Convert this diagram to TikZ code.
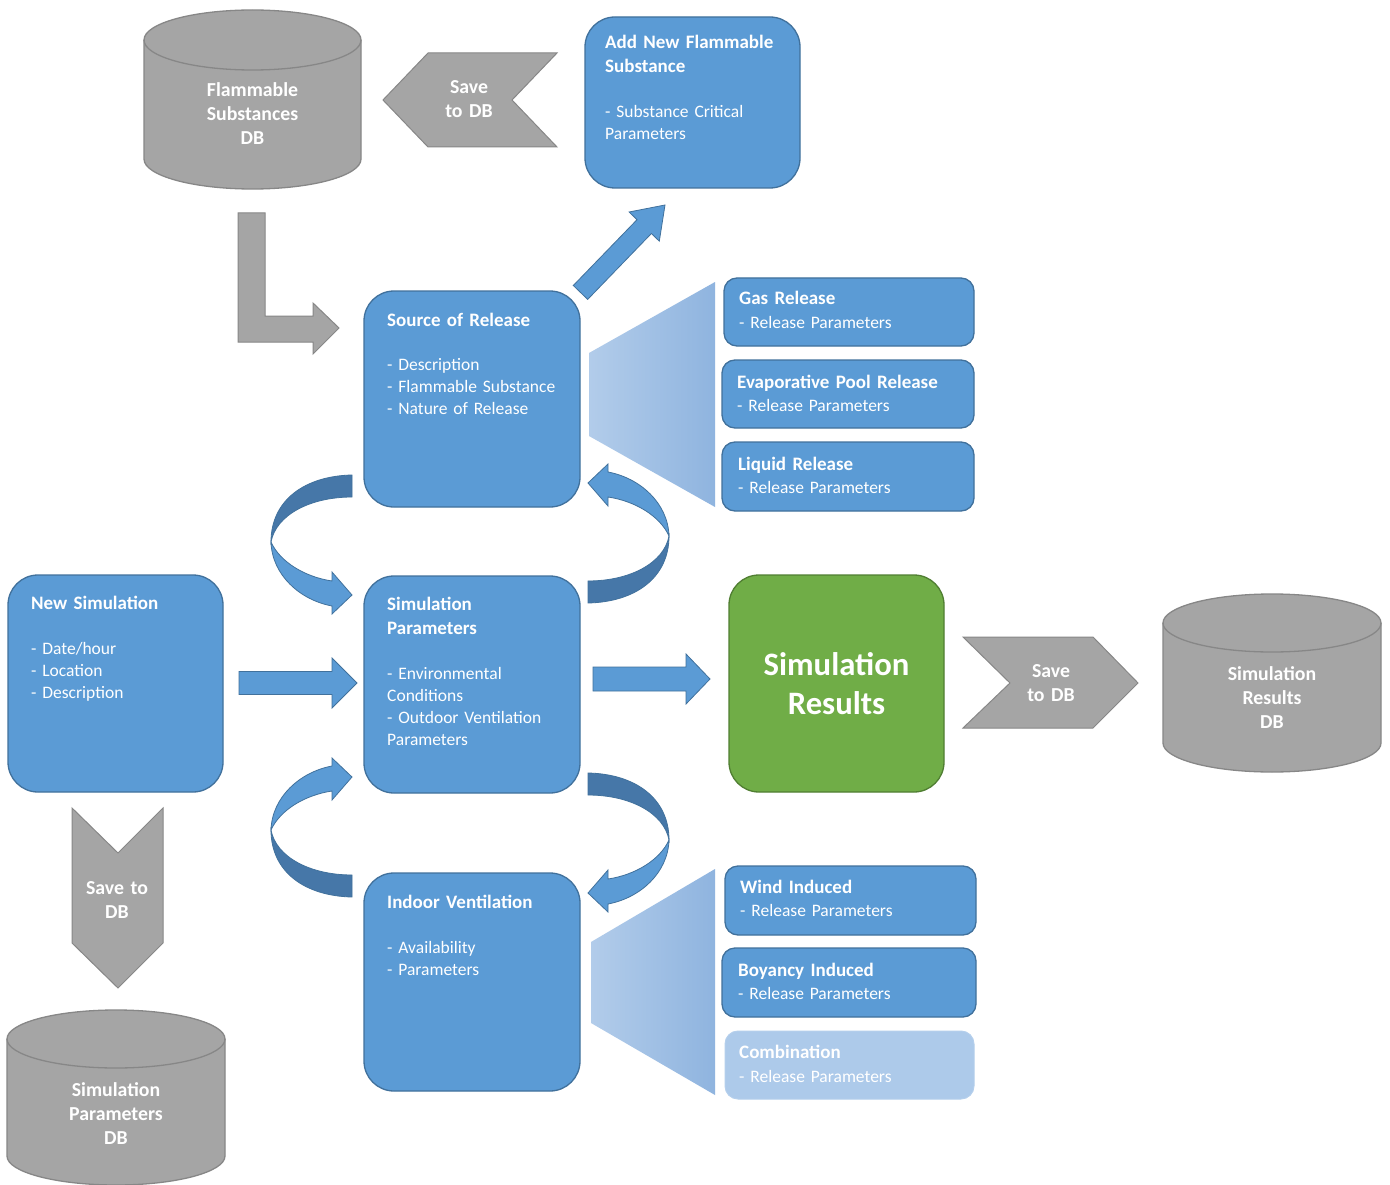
\documentclass[tikz,border=0pt]{standalone}
\usepackage{fontspec}
\setmainfont{Carlito}
\definecolor{boxblue}{HTML}{5B9BD5}
\definecolor{boxedge}{HTML}{41719C}
\definecolor{darkband}{HTML}{4677A8}
\definecolor{gfill}{HTML}{A5A5A5}
\definecolor{gedge}{HTML}{878787}
\definecolor{grfill}{HTML}{70AD47}
\definecolor{gredge}{HTML}{507E32}
\definecolor{lightbox}{HTML}{ADCAEA}
\definecolor{trapL}{HTML}{B2CCEA}
\definecolor{trapR}{HTML}{8FB4DF}
\newcommand{\dbcyl}[5]{%
  \filldraw[dbstyle] (#1-#4,#2) -- (#1-#4,#3) arc[start angle=180,end angle=360,x radius=#4pt,y radius=#5pt] -- (#1+#4,#2) arc[start angle=0,end angle=180,x radius=#4pt,y radius=#5pt] -- cycle;
  \draw[dbstyle,fill=none] (#1-#4,#2) arc[start angle=180,end angle=360,x radius=#4pt,y radius=#5pt];
}
\tikzset{
  bigbox/.style={fill=boxblue, draw=boxedge, line width=1.3pt, rounded corners=30pt, inner sep=0pt, outer sep=0pt},
  smallbox/.style={fill=boxblue, draw=boxedge, line width=1.3pt, rounded corners=13pt, inner sep=0pt, outer sep=0pt},
  paleBox/.style={fill=lightbox, draw=lightbox!90!white, line width=1pt, rounded corners=13pt, inner sep=0pt, outer sep=0pt},
  greenbox/.style={fill=grfill, draw=gredge, line width=1.3pt, rounded corners=30pt, inner sep=0pt, outer sep=0pt},
  dbstyle/.style={fill=gfill, draw=gedge, line width=1.3pt},
  grayarrow/.style={fill=gfill, draw=gedge, line width=1pt},
  bluearrow/.style={fill=boxblue, draw=boxedge, line width=0.8pt},
  backband/.style={fill=darkband, draw=boxedge, line width=0.8pt},
  ttl/.style={text=white, font=\bfseries\fontsize{19}{24}\selectfont, anchor=base west, inner sep=0pt, text width=230pt, align=left},
  bdy/.style={text=white, font=\fontsize{17.5}{22}\selectfont, anchor=base west, inner sep=0pt, text width=230pt, align=left},
  gtxt/.style={text=white, font=\bfseries\fontsize{19.8}{24}\selectfont, anchor=base, inner sep=0pt, text width=150pt, align=center},
}
\begin{document}
\begin{tikzpicture}[x=1pt,y=-1pt]
\useasboundingbox (0,0) rectangle (1390,1185);
\fill[white] (0,0) rectangle (1390,1185);

% ---------- databases ----------
\dbcyl{252.5}{40}{159}{108.5}{30}
\node[gtxt] (fdb) at (252.5,97) {Flammable\\Substances\\DB};
\dbcyl{1272}{623}{743}{109}{29}
\node[gtxt] (rdb) at (1272,680) {Simulation\\Results\\DB};
\dbcyl{116}{1039}{1156}{109}{29}
\node[gtxt] (pdb) at (116,1096) {Simulation\\Parameters\\DB};

% ---------- gray chevrons ----------
\filldraw[grayarrow] (383,100) -- (428,53) -- (557,53) -- (512,100) -- (557,147) -- (428,147) -- cycle;
\node[gtxt] (sv1) at (469,94) {Save\\to DB};
\filldraw[grayarrow] (963,637) -- (1093,637) -- (1138,683) -- (1093,728) -- (963,728) -- (1010,683) -- cycle;
\node[gtxt] (sv2) at (1051,677) {Save\\to DB};
\filldraw[grayarrow] (72,808) -- (118,853) -- (163,808) -- (163,943) -- (118,988) -- (72,943) -- cycle;
\node[gtxt] (sv3) at (117,894) {Save to\\DB};

% gray L arrow
\filldraw[grayarrow] (238,213) -- (265,213) -- (265,316) -- (313,316) -- (313,303) -- (339,328) -- (313,354) -- (313,342) -- (238,342) -- cycle;

% ---------- trapezoids ----------
\shade[left color=trapL, right color=trapR] (589,353) -- (715,282) -- (715,507) -- (589,436) -- cycle;
\shade[left color=trapL, right color=trapR] (591,942) -- (715,869) -- (715,1095) -- (591,1023) -- cycle;

% ---------- main boxes ----------
\node[bigbox, minimum width=215pt, minimum height=171pt] (add) at (692.5,102.5) {};
\node[ttl] (addt) at (605,49) {Add New Flammable\\Substance};
\node[bdy] (addb) at (605,118) {- Substance Critical\\Parameters};

\node[bigbox, minimum width=216pt, minimum height=216pt] (src) at (472,399) {};
\node[ttl] (srct) at (387,326) {Source of Release};
\node[bdy] (srcb) at (387,370) {- Description\\- Flammable Substance\\- Nature of Release};

\node[bigbox, minimum width=216pt, minimum height=217pt] (sim) at (472,684.5) {};
\node[ttl] (simt) at (387,610) {Simulation\\Parameters};
\node[bdy] (simb) at (387,679) {- Environmental\\Conditions\\- Outdoor Ventilation\\Parameters};

\node[bigbox, minimum width=216pt, minimum height=218pt] (ind) at (472,982) {};
\node[ttl] (indt) at (387,908) {Indoor Ventilation};
\node[bdy] (indb) at (387,953) {- Availability\\- Parameters};

\node[bigbox, minimum width=215pt, minimum height=217pt] (new) at (115.5,683.5) {};
\node[ttl] (newt) at (31,609) {New Simulation};
\node[bdy] (newb) at (31,654) {- Date/hour\\- Location\\- Description};

\node[greenbox, minimum width=215pt, minimum height=217pt] (res) at (836.5,683.5) {};
\node[text=white, font=\bfseries\fontsize{32.7}{39}\selectfont, anchor=base, inner sep=0pt, text width=210pt, align=center] (rest) at (836.5,675) {Simulation\\Results};

% ---------- small boxes ----------
\node[smallbox, minimum width=250pt, minimum height=68pt] (gas) at (849,312) {};
\node[ttl] (gast) at (739,305) {Gas Release};
\node[bdy] (gasb) at (739,328) {- Release Parameters};
\node[smallbox, minimum width=252pt, minimum height=68pt] (evap) at (848,394) {};
\node[ttl] (evapt) at (737,388) {Evaporative Pool Release};
\node[bdy] (evapb) at (737,411) {- Release Parameters};
\node[smallbox, minimum width=252pt, minimum height=69pt] (liq) at (848,476.5) {};
\node[ttl] (liqt) at (738,470) {Liquid Release};
\node[bdy] (liqb) at (738,493) {- Release Parameters};

\node[smallbox, minimum width=251pt, minimum height=69pt] (wind) at (850.5,900.5) {};
\node[ttl] (windt) at (740,893) {Wind Induced};
\node[bdy] (windb) at (740,916) {- Release Parameters};
\node[smallbox, minimum width=254pt, minimum height=69pt] (boy) at (849,982.5) {};
\node[ttl] (boyt) at (738,976) {Boyancy Induced};
\node[bdy] (boyb) at (738,999) {- Release Parameters};
\node[paleBox, minimum width=249pt, minimum height=68pt] (comb) at (849.5,1065) {};
\node[ttl] (combt) at (739,1058) {Combination};
\node[bdy] (combb) at (739,1082) {- Release Parameters};

% ---------- straight blue arrows ----------
\filldraw[bluearrow] (239,671.5) -- (332,671.5) -- (332,658) -- (357,683) -- (332,708) -- (332,694.5) -- (239,694.5) -- cycle;
\filldraw[bluearrow] (593,667) -- (686,667) -- (686,654) -- (710,679) -- (686,704) -- (686,691) -- (593,691) -- cycle;
\filldraw[bluearrow] (587.7,299.4) -- (573.3,285.5) -- (637.0,219.7) -- (629.1,212.0) -- (665,205) -- (659.3,241.2) -- (651.4,233.5) -- cycle;

% ---------- curved arrows ----------
% 1: source -> sim (left, top)
\filldraw[backband] (352,475) .. controls (305,476) and (271,500) .. (271,542) .. controls (276,515) and (310,497) .. (352,497) -- cycle;
\filldraw[bluearrow] (271,542) .. controls (272,575) and (300,600) .. (332,606) -- (332,614) -- (352,595) -- (332,572) -- (332,581) .. controls (305,577) and (280,562) .. (271,542) -- cycle;
% 2: sim -> source (right, top)
\filldraw[backband] (588,603) .. controls (635,602) and (669,578) .. (669,536) .. controls (664,563) and (630,581) .. (588,581) -- cycle;
\filldraw[bluearrow] (669,536) .. controls (668,503) and (640,478) .. (608,472) -- (608,464) -- (588,483) -- (608,506) -- (608,497) .. controls (635,501) and (660,516) .. (669,536) -- cycle;
% 3: indoor -> sim (left, bottom)
\filldraw[backband] (352,897) .. controls (305,896) and (271,872) .. (271,830) .. controls (276,857) and (310,875) .. (352,875) -- cycle;
\filldraw[bluearrow] (271,830) .. controls (272,797) and (300,772) .. (332,766) -- (332,758) -- (352,777) -- (332,800) -- (332,791) .. controls (305,795) and (280,810) .. (271,830) -- cycle;
% 4: sim -> indoor (right, bottom)
\filldraw[backband] (588,773) .. controls (635,774) and (669,798) .. (669,840) .. controls (664,813) and (630,795) .. (588,795) -- cycle;
\filldraw[bluearrow] (669,840) .. controls (668,873) and (640,898) .. (608,904) -- (608,912) -- (588,893) -- (608,870) -- (608,879) .. controls (635,875) and (660,860) .. (669,840) -- cycle;
\end{tikzpicture}
\end{document}
